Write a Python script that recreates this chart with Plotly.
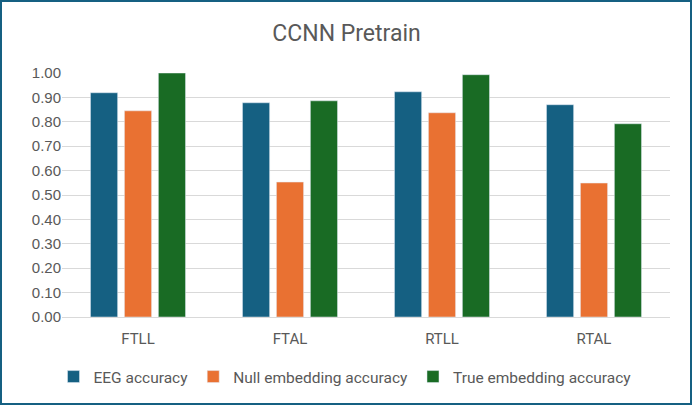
import plotly.graph_objects as go

categories = ["FTLL", "FTAL", "RTLL", "RTAL"]
eeg_accuracy = [0.919, 0.878, 0.923, 0.870]
null_embedding_accuracy = [0.845, 0.553, 0.837, 0.549]
true_embedding_accuracy = [1.000, 0.886, 0.993, 0.792]
y_ticks = [i / 10 for i in range(11)]

W, H = 693, 406
ml, mr, mt, mb = 62, 23, 73, 89
pw, ph = W - ml - mr, H - mt - mb

narrow = "Roboto, sans-serif"
gray = "#595959"

fig = go.Figure()
fig.add_bar(name="EEG accuracy", x=categories, y=eeg_accuracy, marker_color="#156082")
fig.add_bar(name="Null embedding accuracy", x=categories, y=null_embedding_accuracy, marker_color="#E97132")
fig.add_bar(name="True embedding accuracy", x=categories, y=true_embedding_accuracy, marker_color="#196B24")

fig.update_layout(
    width=W, height=H,
    margin=dict(l=ml, r=mr, t=mt, b=mb),
    paper_bgcolor="white", plot_bgcolor="white",
    barmode="group", bargap=0.33, bargroupgap=0.2,
    title=dict(text="CCNN Pretrain", x=0.5, xanchor="center", y=1 - 33 / H, yanchor="middle",
               font=dict(family=narrow, size=23, color=gray)),
    legend=dict(orientation="h", x=0.5 - 21 / pw, xanchor="center", y=(H - mb - 377) / ph, yanchor="middle",
                font=dict(family=narrow, size=15.5, color=gray), itemwidth=30, traceorder="normal"),
    font=dict(family=narrow, color=gray),
    shapes=[dict(type="rect", xref="paper", yref="paper",
                 x0=(1 - ml) / pw, x1=(W - 2 - ml) / pw,
                 y0=-(H - 2 - (H - mb)) / ph, y1=(H - mb - 1) / ph,
                 line=dict(color="#156082", width=2), fillcolor="rgba(0,0,0,0)", layer="above")],
)
fig.update_xaxes(showgrid=False, showline=True, linecolor="#d9d9d9", linewidth=1,
                 tickfont=dict(family=narrow, size=15, color=gray), ticks="", ticklabelstandoff=8)
fig.update_yaxes(range=[0, 1.0], tickvals=y_ticks, tickformat=".2f", showgrid=True,
                 gridcolor="#d9d9d9", gridwidth=1, zeroline=False, showline=False,
                 tickfont=dict(family="Liberation Sans, Arial, sans-serif", size=15, color=gray))

fig.write_html("out.html", config={"displayModeBar": False},
               post_script="document.body.style.margin='0';document.body.style.overflow='hidden';")
